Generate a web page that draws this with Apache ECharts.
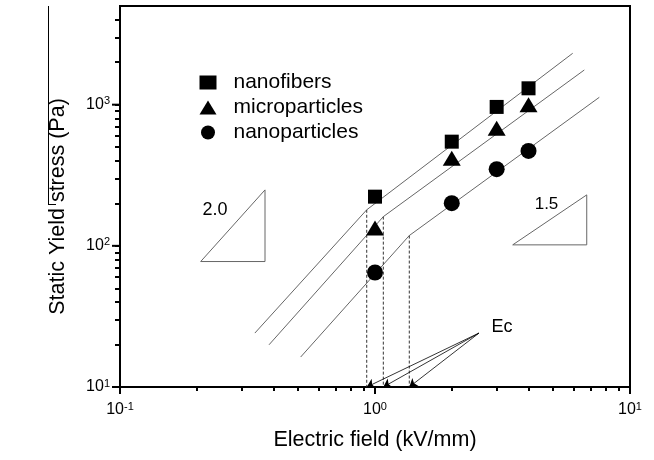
<!DOCTYPE html>
<html>
<head>
<meta charset="utf-8">
<script src="https://cdn.jsdelivr.net/npm/echarts@6/dist/echarts.min.js"></script>
<style>html,body{margin:0;padding:0;background:#fff}#c{width:654px;height:460px}</style>
</head>
<body>
<div id="c"></div>
<script>
// ---- data ----
const fieldValues = [1, 2, 3, 4];
const nanofibers = [223, 547, 964, 1306];
const microparticles = [134, 418, 681, 1000];
const nanoparticles = [64.7, 200.6, 349, 470];

// fit lines (start, break at Ec, end)
const fitNanofibers = [[0.338, 24.1], [0.928, 180], [5.96, 2312]];
const fitMicroparticles = [[0.384, 19.9], [1.078, 161], [6.62, 1761]];
const fitNanoparticles = [[0.511, 16.3], [1.363, 118.3], [7.58, 1128]];

// critical fields Ec and the stress at the break
const criticalFields = [0.928, 1.078, 1.363];
const breakStress = [180, 161, 118.3];
const ecLabelPoint = [2.557, 24.1];

// slope triangles
const slope20 = [[0.2072, 77.4], [0.3704, 249], [0.3704, 77.4], [0.2072, 77.4]];
const slope15 = [[3.467, 101.6], [6.766, 229.6], [6.766, 101.6], [3.467, 101.6]];

// ticks
const xMajorTicks = [0.1, 1, 10];
const xMinorTicks = [0.2, 0.3, 0.4, 0.5, 0.6, 0.7, 0.8, 0.9, 2, 3, 4, 5, 6, 7, 8, 9];
const yMajorTicks = [10, 100, 1000];
const yMinorTicks = [20, 30, 40, 50, 60, 70, 80, 90, 200, 300, 400, 500, 600, 700, 800, 900, 2000, 3000, 4000];

const xMin = 0.1, xMax = 10, yMin = 10, yMax = 5000;

// ---- chart ----
const FONT = '"Liberation Sans", Arial, sans-serif';
const chart = echarts.init(document.getElementById('c'), null, {renderer: 'canvas'});

const powLabel = v => '{b|10}{s|' + Math.round(Math.log10(v)) + '}';
const richSup = {
  b: {fontSize: 16, color: '#000', fontFamily: FONT, lineHeight: 18},
  s: {fontSize: 11, color: '#000', fontFamily: FONT, verticalAlign: 'top', lineHeight: 18}
};

const dashed = criticalFields.map((e, i) => ({
  type: 'line', silent: true, symbol: 'none',
  data: [[e, breakStress[i]], [e, yMin]],
  lineStyle: {color: '#333', width: 1, type: [3, 2]}, z: 2
}));

const fitLine = d => ({
  type: 'line', silent: true, symbol: 'none', data: d,
  lineStyle: {color: '#666', width: 1}, z: 2
});

// longer major ticks, drawn through the axis scales
const xMajorTickData = xMajorTicks.map(v => [v, yMin]);
const yMajorTickData = yMajorTicks.map(v => [xMin, v]);

const option = {
  animation: false,
  textStyle: {fontFamily: FONT, color: '#000'},
  grid: {left: 120, right: 24, top: 6, bottom: 73, show: true, borderColor: '#000', borderWidth: 2},
  legend: {
    orient: 'vertical', left: 194.5, top: 67, itemWidth: 17, itemHeight: 14, itemGap: 4,
    formatter: '{n|{name}}',
    textStyle: {fontSize: 21, color: '#000', fontFamily: FONT,
      rich: {n: {fontSize: 21, color: '#000', fontFamily: FONT, padding: [0, 0, 0, 12]}}},
    data: [
      {name: 'nanofibers', icon: 'rect'},
      {name: 'microparticles', icon: 'triangle'},
      {name: 'nanoparticles', icon: 'circle'}
    ]
  },
  xAxis: {
    type: 'log', min: xMin, max: xMax, position: 'bottom',
    axisLine: {show: true, lineStyle: {color: '#000', width: 2}},
    axisTick: {show: true, length: 4, customValues: xMajorTicks.concat(xMinorTicks), lineStyle: {color: '#000', width: 2}},
    axisLabel: {show: true, margin: 14, customValues: xMajorTicks, formatter: powLabel, rich: richSup},
    splitLine: {show: false},
    name: 'Electric field (kV/mm)', nameLocation: 'middle', nameGap: 42,
    nameTextStyle: {fontSize: 21.5, color: '#000', fontFamily: FONT}
  },
  yAxis: {
    type: 'log', min: yMin, max: yMax, position: 'left',
    axisLine: {show: true, lineStyle: {color: '#000', width: 2}},
    axisTick: {show: true, length: 5, customValues: yMajorTicks.concat(yMinorTicks), lineStyle: {color: '#000', width: 2}},
    axisLabel: {show: true, margin: 10, customValues: yMajorTicks, formatter: powLabel, rich: richSup},
    splitLine: {show: false},
    name: 'Static Yield stress (Pa)', nameLocation: 'middle', nameGap: 51,
    nameTextStyle: {fontSize: 21.5, color: '#000', fontFamily: FONT, padding: [0, 20, 0, 0]}
  },
  series: [
    fitLine(fitNanofibers),
    fitLine(fitMicroparticles),
    fitLine(fitNanoparticles),
    ...dashed,
    {type: 'line', silent: true, symbol: 'none', data: slope20, lineStyle: {color: '#666', width: 1}, z: 2},
    {type: 'line', silent: true, symbol: 'none', data: slope15, lineStyle: {color: '#666', width: 1}, z: 2},
    {
      type: 'lines', coordinateSystem: 'cartesian2d', silent: true,
      symbol: ['none', 'arrow'], symbolSize: 8,
      lineStyle: {color: '#000', width: 0.8, opacity: 1},
      data: criticalFields.map(e => ({coords: [ecLabelPoint, [e, yMin]]})), z: 3
    },
    {
      type: 'custom', silent: true, clip: false, z: 6, encode: {x: 0, y: 1},
      data: xMajorTickData,
      renderItem: (params, api) => {
        const p = api.coord([api.value(0), api.value(1)]);
        return {type: 'line', shape: {x1: p[0], y1: p[1], x2: p[0], y2: p[1] + 7},
          style: {stroke: '#000', lineWidth: 2}};
      }
    },
    {
      type: 'custom', silent: true, clip: false, z: 6, encode: {x: 0, y: 1},
      data: yMajorTickData,
      renderItem: (params, api) => {
        const p = api.coord([api.value(0), api.value(1)]);
        return {type: 'line', shape: {x1: p[0], y1: p[1], x2: p[0] - 8, y2: p[1]},
          style: {stroke: '#000', lineWidth: 2}};
      }
    },
    {name: 'nanofibers', type: 'scatter', symbol: 'rect', symbolSize: 14,
      itemStyle: {color: '#000', opacity: 1}, data: fieldValues.map((x, i) => [x, nanofibers[i]]), z: 5},
    {name: 'microparticles', type: 'scatter', symbol: 'triangle', symbolSize: [18, 15],
      itemStyle: {color: '#000', opacity: 1}, data: fieldValues.map((x, i) => [x, microparticles[i]]), z: 5},
    {name: 'nanoparticles', type: 'scatter', symbol: 'circle', symbolSize: 16,
      itemStyle: {color: '#000', opacity: 1}, data: fieldValues.map((x, i) => [x, nanoparticles[i]]), z: 5}
  ],
  graphic: [
    {type: 'text', x: 215, y: 210, style: {text: '2.0', fill: '#000', font: '18px ' + FONT, align: 'center', verticalAlign: 'middle'}},
    {type: 'text', x: 546.5, y: 204, style: {text: '1.5', fill: '#000', font: '17px ' + FONT, align: 'center', verticalAlign: 'middle'}},
    {type: 'text', x: 491.5, y: 327, style: {text: 'Ec', fill: '#000', font: '18px ' + FONT, align: 'left', verticalAlign: 'middle'}},
    {type: 'line', shape: {x1: 48.5, y1: 6, x2: 48.5, y2: 204}, style: {stroke: '#000', lineWidth: 1}},
    {type: 'line', shape: {x1: 48, y1: 204.5, x2: 56, y2: 204.5}, style: {stroke: '#000', lineWidth: 1}}
  ]
};
chart.setOption(option);
</script>
</body>
</html>
